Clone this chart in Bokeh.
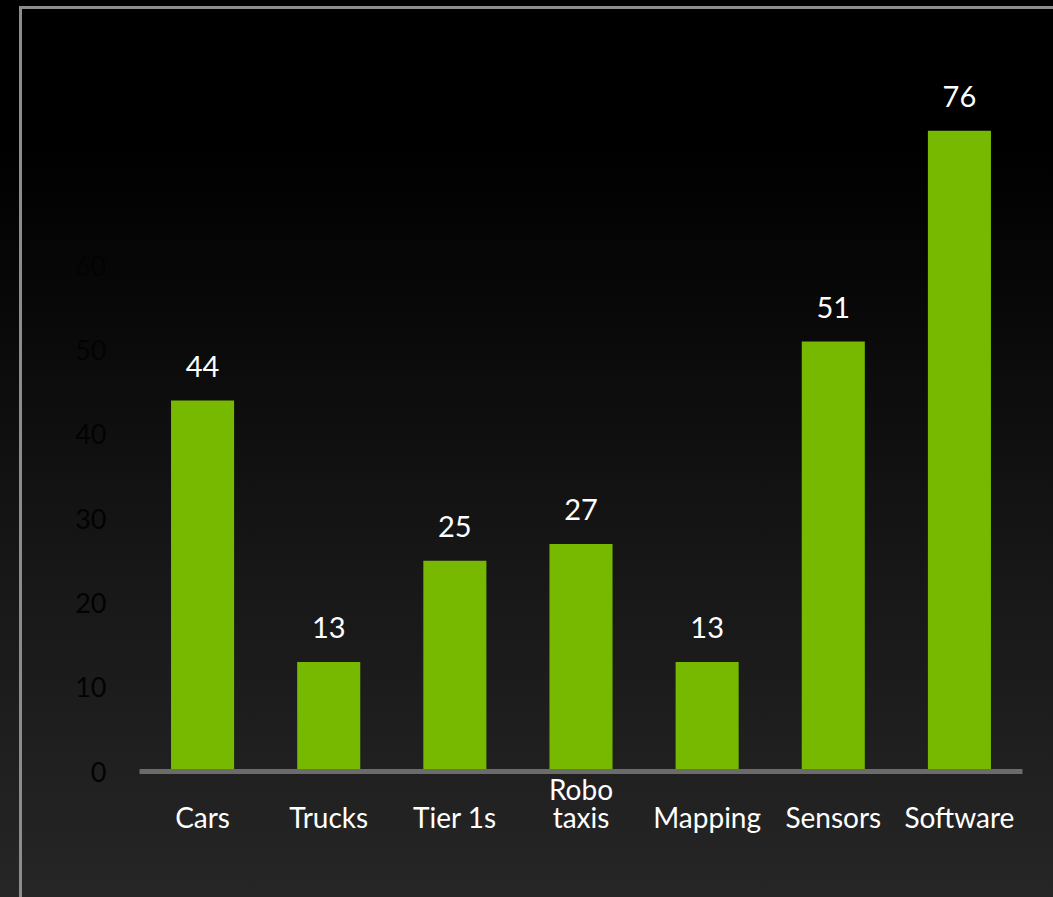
from bokeh.plotting import figure
from bokeh.models import ColumnDataSource, FixedTicker, Range1d
from bokeh.core.properties import value
from bokeh.transform import dodge
from bokeh.embed import file_html
from bokeh.resources import INLINE

tick_labels = ["Cars", "Trucks", "Tier 1s", "Robo\ntaxis", "Mapping", "Sensors", "Software"]
counts = [44, 13, 25, 27, 13, 51, 76]
y_ticks = [0, 10, 20, 30, 40, 50, 60]

FONT = "Lato"
GREEN = "#76b900"

# single-line labels are put on the second text line so that the two-line
# label ("Robo / taxis") sits roughly centred against them, as in the original
factors = [t if "\n" in t else "\n" + t for t in tick_labels]

src = ColumnDataSource(dict(cat=factors, val=counts, lab=[str(v) for v in counts]))

p = figure(
    x_range=factors,
    y_range=Range1d(0, 91.46),
    width=1053, height=897,
    output_backend="svg", toolbar_location=None,
    min_border_left=139, min_border_right=31,
    min_border_top=0, min_border_bottom=126,
)
p.x_range.range_padding = 0
p.border_fill_alpha = 0
p.background_fill_alpha = 0
p.outline_line_color = None
p.grid.visible = False
p.styles = {
    "background": (
        "linear-gradient(#8c8c8c,#8c8c8c) 19px 6px / 3px 100% no-repeat, "
        "linear-gradient(#8c8c8c,#8c8c8c) 19px 6px / 100% 3px no-repeat, "
        "linear-gradient(to bottom, #000000 0px, #000000 140px, #0a0a0a 340px, "
        "#171717 570px, #202020 770px, #262626 897px)"
    )
}

p.vbar(x="cat", top="val", width=0.5, source=src, fill_color=GREEN, line_color=None)
p.text(x="cat", y=dodge("val", 4.1, range=p.y_range), text="lab", source=src,
       text_align="center", text_baseline="middle",
       text_font=value(FONT), text_font_size="29px", text_color="#ffffff")

xa = p.xaxis[0]
xa.axis_line_color = "#6b6b6b"
xa.axis_line_width = 5
xa.major_tick_line_color = None
xa.minor_tick_line_color = None
xa.major_label_standoff = -6
xa.major_label_text_line_height = 0.85
xa.major_label_text_font = FONT
xa.major_label_text_font_size = "28px"
xa.major_label_text_color = "#ffffff"

ya = p.yaxis[0]
ya.ticker = FixedTicker(ticks=y_ticks)
ya.axis_line_color = None
ya.major_tick_line_color = None
ya.minor_tick_line_color = None
ya.major_label_standoff = 27
ya.major_label_text_font = FONT
ya.major_label_text_font_size = "27px"
ya.major_label_text_color = "#030303"

open("out.html", "w").write(file_html(p, INLINE))
